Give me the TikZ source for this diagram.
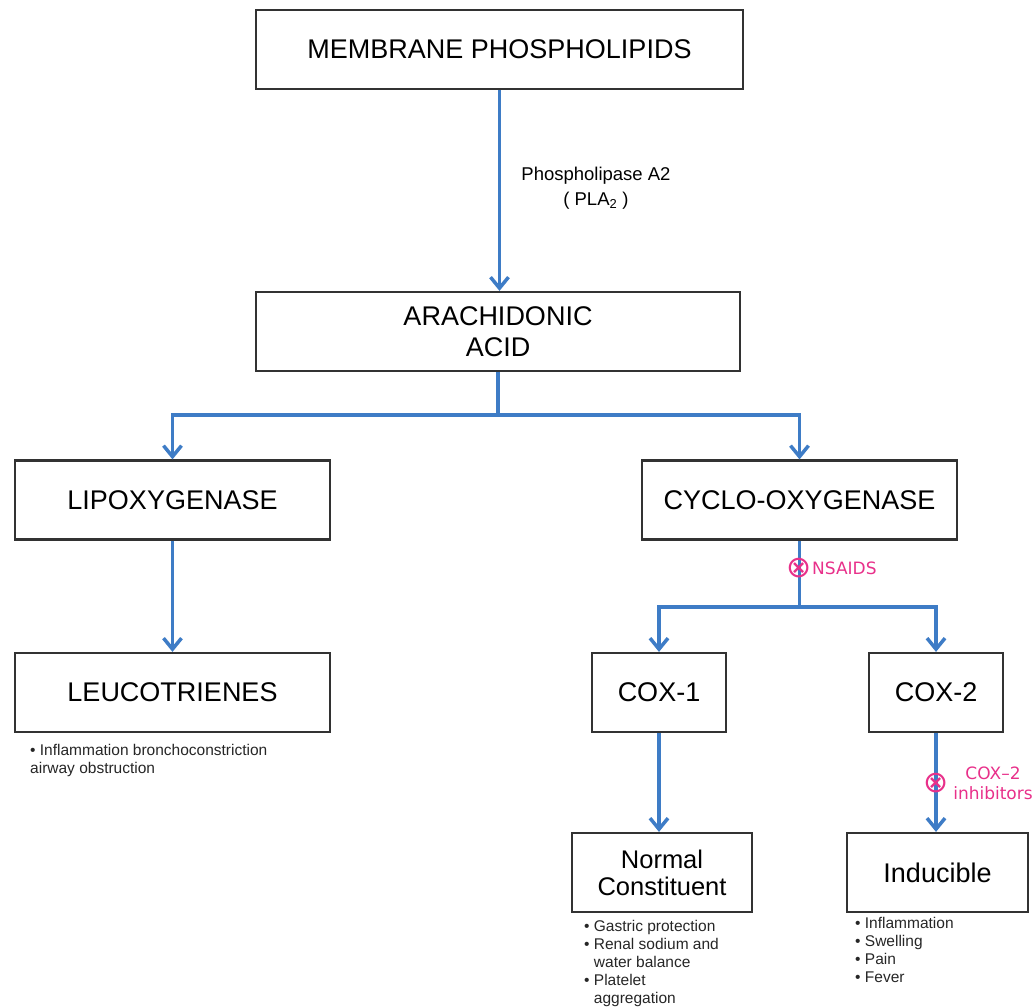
\documentclass[tikz,border=0pt]{standalone}
\usepackage{fontspec}
\setmainfont{Liberation Sans}
\newfontfamily\markfont{DejaVu Sans}
\usetikzlibrary{arrows.meta}
\definecolor{flowblue}{RGB}{62,124,198}
\definecolor{inhibpink}{RGB}{232,48,138}
\definecolor{boxgray}{RGB}{50,50,50}
\begin{document}
\begin{tikzpicture}[x=1pt,y=-1pt,
	box/.style={draw=boxgray,line width=2.2pt,fill=white,minimum height=79pt,inner sep=0pt,font=\fontsize{27}{31}\selectfont,align=center},
	link/.style={draw=flowblue,line width=3.5pt},
	arrow/.style={link,-{Straight Barb[length=11pt,width=18pt]}},
	note/.style={font=\fontsize{15.5}{18}\selectfont,text=black!85,align=left,anchor=north west,inner sep=0pt},
	block/.style={text=inhibpink,font=\markfont\fontsize{17}{20}\selectfont,inner sep=0pt},
	blockmark/.style={block,font=\markfont\fontsize{30}{30}\selectfont}]
				\useasboundingbox (0,0) rectangle (1035,1008);
				\node[box,minimum width=487pt] (memb) at (499.5,49.5) {MEMBRANE PHOSPHOLIPIDS};
				\node[box,minimum width=484pt] (arach) at (498,331.5) {ARACHIDONIC\\ACID};
				\node[box,minimum width=315pt] (lipox) at (172.5,500) {LIPOXYGENASE};
				\node[box,minimum width=315pt] (cyclo) at (799.5,500) {CYCLO-OXYGENASE};
				\node[box,minimum width=315pt] (leuco) at (172.5,692.5) {LEUCOTRIENES};
				\node[box,minimum width=134pt] (cox1) at (659,692.5) {COX-1};
				\node[box,minimum width=134pt] (cox2) at (936,692.5) {COX-2};
				\node[box,minimum width=180pt,font=\fontsize{25.5}{27}\selectfont] (normal) at (662,872.5) {Normal\\Constituent};
				\node[box,minimum width=181pt] (induc) at (937.5,872.5) {Inducible};
				\draw[arrow] (memb.south) -- (memb.south |- arach.north);
				\node[font=\fontsize{18.5}{25}\selectfont,align=center] (pla) at (596,188) {Phospholipase A2\\( PLA\textsubscript{2} )};
				\coordinate (fork1) at (arach.south |- 0,415);
				\draw[link] (arach.south) -- (fork1);
				\draw[arrow] (fork1) -| (lipox.north);
				\draw[arrow] (fork1) -| (cyclo.north);
				\draw[arrow] (lipox) -- (leuco);
				\coordinate (fork2) at (cyclo.south |- 0,607);
				\draw[link] (cyclo.south) -- (fork2);
				\draw[arrow] (fork2) -| (cox1.north);
				\draw[arrow] (fork2) -| (cox2.north);
				\node[blockmark] (nsaidmark) at (cyclo.south |- 0,568) {⊗};
				\node[block,anchor=west] (nsaids) at (812,568) {NSAIDS};
				\draw[arrow] (cox1.south) -- (cox1.south |- normal.north);
				\draw[arrow] (cox2.south) -- (cox2.south |- induc.north);
				\node[blockmark] (coxmark) at (cox2.south |- 0,783) {⊗};
				\node[block,align=center] (coxinhib) at (993,783) {COX–2\\inhibitors};
				\node[note] (leucnote) at (30,744) {• Inflammation bronchoconstriction\\airway obstruction};
				\node[note] (normnote) at (584,920) {• Gastric protection\\• Renal sodium and\\\phantom{• }water balance\\• Platelet\\\phantom{• }aggregation};
				\node[note] (inducnote) at (855,917) {• Inflammation\\• Swelling\\• Pain\\• Fever};
			\end{tikzpicture}
\end{document}
